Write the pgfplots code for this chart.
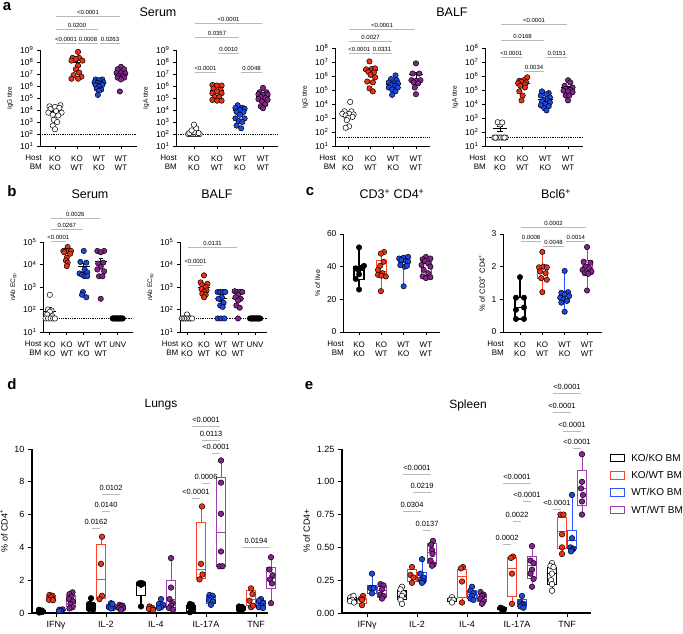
\documentclass[border=0pt]{standalone}
\usepackage{pgfplots}
\pgfplotsset{compat=1.18}
\usepgfplotslibrary{statistics}
\usepackage{fontspec}
\setmainfont{Liberation Sans}
\definecolor{cred}{RGB}{238,48,20}
\definecolor{cblue}{RGB}{28,72,228}
\definecolor{cpurp}{RGB}{132,36,140}
\definecolor{bred}{RGB}{255,64,40}
\definecolor{bblue}{RGB}{40,84,255}
\definecolor{bpurp}{RGB}{160,64,176}
\newcommand{\tp}[1]{10\textsuperscript{#1}}
\pgfplotsset{
  base/.style={scale only axis, clip=false, axis lines=left,
    axis line style={-, line width=0.9pt}, tick style={black, line width=0.7pt},
    major tick length=3pt, tick align=outside, boxplot/draw direction=y,
    yticklabel style={font=\fontsize{8.5}{9}\selectfont},
    xticklabel style={font=\fontsize{8}{9}\selectfont, align=center},
    xticklabel shift=3pt,
    ylabel style={font=\fontsize{6.5}{7}\selectfont}},
  hb/.style={xtick={0,1,2,3}, xticklabels={{KO\\KO},{KO\\WT},{WT\\KO},{WT\\WT}}},
  hb5/.style={xtick={0,1,2,3,4}, xticklabels={{KO\\KO},{KO\\WT},{WT\\KO},{WT\\WT},{UNV}}},
  dot/.style={only marks, mark=*, mark size=2.7pt, mark options={fill=#1, draw=black, line width=0.5pt}},
  lod/.style={densely dotted, line width=0.8pt, black},
}
\newcommand{\br}[4]{\draw[gray!55, line width=0.6pt, shorten <=1pt, shorten >=1pt] (axis cs:#1,#3) -- (axis cs:#2,#3) node[midway, above, inner sep=1pt, text=black, font=\fontsize{6}{7}\selectfont] {#4};}
\newcommand{\brd}[4]{\draw[gray!55, line width=0.7pt, shorten <=1pt, shorten >=1pt] (axis cs:#1,#3) -- (axis cs:#2,#3) node[midway, above, inner sep=1pt, yshift=2pt, text=black, font=\fontsize{7.5}{8}\selectfont] {#4};}
\newcommand{\bx}[7]{\addplot[line width=0.8pt, #1, boxplot prepared={draw position=#2, lower whisker=#3, lower quartile=#4, median=#5, upper quartile=#6, upper whisker=#7}] coordinates {};}
\newcommand{\hostbm}[1]{\node[anchor=north east, align=right, font=\fontsize{8}{9}\selectfont, inner sep=0pt, xshift=#1, yshift=-8.7pt] at (rel axis cs:0,0) {Host\\BM};}
\newcommand{\msem}[5]{\addplot[black, line width=0.9pt] coordinates {(#1-#5,#2) (#1+#5,#2)};
\addplot[black, line width=0.8pt] coordinates {(#1,#3) (#1,#4)};
\addplot[black, line width=0.8pt] coordinates {(#1-0.12,#3) (#1+0.12,#3)};
\addplot[black, line width=0.8pt] coordinates {(#1-0.12,#4) (#1+0.12,#4)};}
\begin{document}
\begin{tikzpicture}
\useasboundingbox (0pt,0pt) rectangle (683pt,633pt);
% ---------------- a1 IgG serum
\begin{axis}[base, ymode=log, yminorticks=false, hb, at={(40pt,487pt)}, anchor=south west, width=97pt, height=96pt,
  xmin=-0.68, xmax=3.73, ymin=10, ymax=1e9,
  ytick={1e1,1e2,1e3,1e4,1e5,1e6,1e7,1e8,1e9},
  yticklabels={\tp{1},\tp{2},\tp{3},\tp{4},\tp{5},\tp{6},\tp{7},\tp{8},\tp{9}},
  ylabel={IgG titre}]
\addplot[lod] coordinates {(-0.68,100) (3.73,100)};
\addplot[dot=white] coordinates {(-0.25,20000)(0.0,18000)(0.25,25000)(-0.2,12000)(0.2,15000)(-0.3,6000)(0.05,8000)(0.3,6000)(-0.1,4000)(0.15,3500)(-0.05,1500)(0.1,1000)(-0.1,500)(0.0,250)};
\addplot[dot=cred] coordinates {(1.05,7e8)(0.8,2.2e8)(1.1,2.2e8)(0.95,1.8e8)(0.75,1.3e8)(1.25,1.3e8)(1.05,5e7)(0.95,2.5e7)(1.1,1.3e7)(0.85,8e6)(0.75,4e6)(1.2,6e6)(1.05,4e6)};
\addplot[dot=cblue] coordinates {(1.85,3.5e6)(2.15,3.5e6)(2.0,3e6)(1.8,2e6)(2.2,2e6)(1.95,1.8e6)(2.1,1.5e6)(1.85,1.2e6)(2.15,1.2e6)(2.0,9e5)(1.9,6e5)(2.1,5e5)(2.0,4e5)(1.95,1.8e5)};
\addplot[dot=cpurp] coordinates {(3.0,4e7)(2.85,2.5e7)(3.15,2.5e7)(2.8,1.2e7)(3.0,1.2e7)(3.2,1.1e7)(2.9,7e6)(3.1,7e6)(2.85,5e6)(3.15,5e6)(3.0,3.5e6)(2.95,3.5e5)};
\msem{0}{8000}{6000}{10000}{0.32}
\msem{1}{1.5e8}{9e7}{2.1e8}{0.32}
\msem{2}{1.5e6}{1.2e6}{1.8e6}{0.32}
\msem{3}{1e7}{7e6}{1.3e7}{0.32}
\br{0}{3}{6.8e11}{<0.0001}
\br{0}{2}{5.6e10}{0.0200}
\br{0}{1}{3.8e9}{<0.0001}
\br{1}{2}{3.8e9}{0.0008}
\br{2}{3}{3.8e9}{0.0263}
\hostbm{2pt}
\end{axis}
% ---------------- a2 IgA serum
\begin{axis}[base, ymode=log, yminorticks=false, hb, at={(176pt,487pt)}, anchor=south west, width=102pt, height=96pt,
  xmin=-0.78, xmax=3.65, ymin=10, ymax=1e9,
  ytick={1e1,1e2,1e3,1e4,1e5,1e6,1e7,1e8,1e9},
  yticklabels={\tp{1},\tp{2},\tp{3},\tp{4},\tp{5},\tp{6},\tp{7},\tp{8},\tp{9}},
  ylabel={IgA titre}]
\addplot[lod] coordinates {(-0.78,100) (3.65,100)};
\addplot[dot=white] coordinates {(-0.25,100)(-0.15,100)(-0.05,100)(0.05,100)(0.15,100)(0.25,100)(-0.2,120)(0.2,120)(0,150)(-0.1,200)(0.1,300)(0,600)};
\addplot[dot=cred] coordinates {(0.8,1.2e6)(1.0,1.1e6)(1.2,1.1e6)(0.85,6e5)(1.15,5e5)(1.0,3.5e5)(0.8,2.5e5)(1.2,2.5e5)(0.9,1.2e5)(1.1,1.2e5)(0.8,7e4)(1.0,6e4)(1.2,6e4)};
\addplot[dot=cblue] coordinates {(1.9,2.5e4)(1.8,1.5e4)(2.1,1.5e4)(2.2,1.3e4)(2.0,1e4)(1.85,7e3)(2.15,7e3)(2.0,4e3)(1.8,2e3)(2.2,2e3)(1.95,1.2e3)(2.1,1e3)(1.85,5e2)(2.05,3e2)};
\addplot[dot=cpurp] coordinates {(3.0,7e5)(2.85,3e5)(3.15,3e5)(2.8,2e5)(3.0,1.8e5)(3.2,2e5)(2.9,1.2e5)(3.1,1e5)(2.8,8e4)(3.2,7e4)(2.95,5e4)(3.1,3e4)(2.9,2e4)(3.0,1.4e4)};
\msem{0}{150}{110}{190}{0.32}
\msem{1}{4e5}{2.8e5}{5.2e5}{0.32}
\msem{2}{1e4}{7.5e3}{1.25e4}{0.32}
\msem{3}{1.3e5}{9e4}{1.7e5}{0.32}
\br{0}{3}{1.8e11}{<0.0001}
\br{0}{2}{1.2e10}{0.0357}
\br{1}{2}{5.6e8}{0.0010}
\br{0}{1}{1.5e7}{<0.0001}
\br{2}{3}{1.5e7}{0.0048}
\hostbm{1pt}
\end{axis}
% ---------------- a3 IgG BALF
\begin{axis}[base, ymode=log, yminorticks=false, hb, at={(335pt,487pt)}, anchor=south west, width=95pt, height=98pt,
  xmin=-0.57, xmax=3.62, ymin=10, ymax=1e8,
  ytick={1e1,1e2,1e3,1e4,1e5,1e6,1e7,1e8},
  yticklabels={\tp{1},\tp{2},\tp{3},\tp{4},\tp{5},\tp{6},\tp{7},\tp{8}},
  ylabel={IgG titre}]
\addplot[lod] coordinates {(-0.57,40) (3.62,40)};
\addplot[dot=white] coordinates {(0.1,1.4e4)(-0.15,3e3)(0.15,3e3)(-0.25,2e3)(0.05,2e3)(0.25,1.8e3)(-0.1,1.5e3)(0.2,1.2e3)(0.0,1e3)(-0.05,700)(0.05,250)(-0.1,200)};
\addplot[dot=cred] coordinates {(0.95,1.1e7)(0.8,3e6)(1.05,3.2e6)(1.2,3.5e6)(0.9,2e6)(1.15,1.8e6)(1.0,1.2e6)(1.2,8e5)(0.85,4e5)(1.1,3.5e5)(0.95,1.3e5)(1.1,8e4)};
\addplot[dot=cblue] coordinates {(2.1,1.1e6)(1.9,6e5)(2.15,5e5)(1.8,3.5e5)(2.05,3e5)(2.2,3e5)(1.9,2.2e5)(2.1,2e5)(1.8,1.5e5)(2.2,1.5e5)(1.95,1.1e5)(2.1,8e4)(1.95,4.5e4)};
\addplot[dot=cpurp] coordinates {(3.0,8e6)(2.85,1.5e6)(3.15,1.5e6)(2.8,5e5)(3.0,4.5e5)(3.2,5e5)(2.9,3.5e5)(3.1,3e5)(2.95,1.5e5)(3.0,5e4)};
\msem{0}{1.8e3}{1.1e3}{2.8e3}{0.32}
\msem{1}{2.5e6}{1.5e6}{3.5e6}{0.32}
\msem{2}{2.7e5}{1.9e5}{3.5e5}{0.32}
\msem{3}{1.2e6}{5e5}{1.9e6}{0.32}
\br{0}{3}{2.3e9}{<0.0001}
\br{0}{2}{3.2e8}{0.0027}
\br{0}{1}{4.4e7}{<0.0001}
\br{1}{2}{4.4e7}{0.0331}
\hostbm{1pt}
\end{axis}
% ---------------- a4 IgA BALF
\begin{axis}[base, ymode=log, yminorticks=false, hb, at={(485pt,487pt)}, anchor=south west, width=98pt, height=98pt,
  xmin=-0.66, xmax=3.66, ymin=10, ymax=1e8,
  ytick={1e1,1e2,1e3,1e4,1e5,1e6,1e7,1e8},
  yticklabels={\tp{1},\tp{2},\tp{3},\tp{4},\tp{5},\tp{6},\tp{7},\tp{8}},
  ylabel={IgA titre}]
\addplot[lod] coordinates {(-0.66,40) (3.66,40)};
\addplot[dot=white] coordinates {(-0.25,40)(-0.15,40)(-0.05,40)(0.05,40)(0.15,40)(0.25,40)(-0.2,40)(0.2,40)(0.0,350)(-0.1,500)(0.1,480)};
\addplot[dot=cred] coordinates {(1.2,8e5)(1.05,5e5)(0.85,4.5e5)(0.95,4e5)(1.15,3.5e5)(0.8,3e5)(1.1,2.5e5)(0.9,2e5)(1.1,1.5e5)(0.85,8e4)(1.0,4e4)(0.95,1.8e4)};
\addplot[dot=cblue] coordinates {(1.85,8e4)(2.15,6e4)(2.05,5e4)(1.8,4e4)(2.2,3e4)(1.95,2e4)(2.1,1.8e4)(1.85,1.5e4)(2.2,1.3e4)(2.0,1e4)(1.8,8e3)(2.15,7e3)(1.95,5e3)(2.05,3.5e3)};
\addplot[dot=cpurp] coordinates {(3.0,5e5)(3.1,3.5e5)(2.85,2e5)(3.2,1.5e5)(2.9,1.2e5)(3.1,1e5)(2.8,9e4)(3.0,8e4)(3.2,7e4)(2.9,4e4)(3.05,4e4)(3.0,1.8e4)};
\msem{0}{180}{110}{250}{0.32}
\msem{1}{2.8e5}{2e5}{3.6e5}{0.32}
\msem{2}{2e4}{1.4e4}{2.6e4}{0.32}
\msem{3}{1.5e5}{1.1e5}{1.9e5}{0.32}
\br{0}{3}{5.2e9}{<0.0001}
\br{0}{2}{3.7e8}{0.0168}
\br{0}{1}{2.3e7}{<0.0001}
\br{2}{3}{2.3e7}{0.0151}
\br{1}{2}{2.3e6}{0.0034}
\hostbm{1pt}
\end{axis}
% ---------------- b1 nAb serum
\begin{axis}[base, ymode=log, yminorticks=false, hb5, at={(43pt,301pt)}, anchor=south west, width=90pt, height=90pt,
  xmin=-0.4, xmax=4.9, ymin=10, ymax=1e5,
  ytick={1e1,1e2,1e3,1e4,1e5},
  yticklabels={\tp{1},\tp{2},\tp{3},\tp{4},\tp{5}},
  ylabel={nAb EC\textsubscript{50}}]
\addplot[lod] coordinates {(-0.4,40) (4.9,40)};
\addplot[dot=white] coordinates {(0.0,450)(-0.1,100)(0.1,90)(0.0,80)(-0.15,60)(0.15,50)(-0.25,40)(-0.1,40)(0.05,40)(0.2,40)(0.3,40)};
\addplot[dot=cred] coordinates {(1.05,6e4)(0.8,4e4)(0.95,4e4)(1.1,4e4)(1.25,4e4)(0.85,3.5e4)(1.2,3e4)(1.0,2e4)(0.95,1.5e4)(1.05,1.2e4)(1.0,8.5e3)};
\addplot[dot=cblue] coordinates {(2.0,4e4)(1.8,1.3e4)(2.15,1.2e4)(2.05,6e3)(1.75,4e3)(2.2,4.5e3)(1.9,3.5e3)(2.05,3e3)(2.2,3e3)(1.95,600)(1.9,450)(2.15,350)};
\addplot[dot=cpurp] coordinates {(2.8,4e4)(3.2,4e4)(3.0,3.5e4)(2.85,1.1e4)(3.15,1.2e4)(3.0,8e3)(2.8,6e3)(3.2,5e3)(2.9,3e3)(3.1,3e3)(3.0,300)};
\addplot[dot=black] coordinates {(3.7,40)(3.75,40)(3.8,40)(3.85,40)(3.9,40)(3.95,40)(4.0,40)(4.05,40)(4.1,40)(4.15,40)(4.2,40)(4.25,40)(4.3,40)};
\msem{0}{85}{55}{120}{0.35}
\msem{1}{3.5e4}{3e4}{4e4}{0.35}
\msem{2}{8e3}{4.5e3}{1.15e4}{0.35}
\msem{3}{1.4e4}{9.5e3}{1.85e4}{0.35}
\br{0}{3}{1.17e6}{0.0026}
\br{0}{2}{3.8e5}{0.0267}
\br{0}{1}{1.1e5}{<0.0001}
\hostbm{-1.5pt}
\end{axis}
% ---------------- b2 nAb BALF
\begin{axis}[base, ymode=log, yminorticks=false, hb5, at={(180pt,301pt)}, anchor=south west, width=87pt, height=90pt,
  xmin=-0.41, xmax=4.7, ymin=10, ymax=1e5,
  ytick={1e1,1e2,1e3,1e4,1e5},
  yticklabels={\tp{1},\tp{2},\tp{3},\tp{4},\tp{5}},
  ylabel={nAb EC\textsubscript{50}}]
\addplot[lod] coordinates {(-0.41,40) (4.7,40)};
\addplot[dot=white] coordinates {(0.0,60)(-0.3,40)(-0.2,40)(-0.1,40)(0.0,40)(0.1,40)(0.2,40)(0.3,40)};
\addplot[dot=cred] coordinates {(1.0,3.3e3)(0.8,1.6e3)(1.2,1.4e3)(0.9,1.2e3)(1.1,1e3)(0.85,800)(1.15,700)(1.0,600)(0.9,500)(1.1,450)(1.0,350)};
\addplot[dot=cblue] coordinates {(1.8,600)(1.95,600)(2.1,600)(2.25,600)(2.05,350)(1.85,300)(2.15,200)(1.95,150)(2.1,130)(1.8,40)(2.0,40)(2.2,40)};
\addplot[dot=cpurp] coordinates {(2.8,650)(2.95,600)(3.1,600)(3.25,600)(3.0,450)(2.85,350)(3.15,300)(3.0,250)(2.9,150)(3.1,120)(3.0,40)};
\addplot[dot=black] coordinates {(3.7,40)(3.75,40)(3.8,40)(3.85,40)(3.9,40)(3.95,40)(4.0,40)(4.05,40)(4.1,40)(4.15,40)(4.2,40)(4.25,40)(4.3,40)};
\msem{1}{1e3}{7.5e2}{1.25e3}{0.35}
\msem{2}{300}{230}{370}{0.35}
\msem{3}{320}{250}{390}{0.35}
\br{0}{3}{6e4}{0.0131}
\br{0}{1}{9.5e3}{<0.0001}
\hostbm{-1.5pt}
\end{axis}
% ---------------- c1 CD3 CD4
\begin{axis}[base, hb, at={(343pt,301pt)}, anchor=south west, width=97pt, height=98pt,
  xmin=-0.72, xmax=3.63, ymin=0, ymax=60, ytick={0,20,40,60}, yticklabels={0,20,40,60},
  ylabel={\% of live}, ylabel style={font=\fontsize{7}{8}\selectfont},
  boxplot/box extend=0.45, boxplot/whisker extend=0.2]
\bx{draw=black, line width=1.2pt}{0}{26}{32.2}{37.9}{40}{52}
\bx{draw=bred}{1}{25}{34.8}{36.9}{43.6}{49}
\bx{draw=bblue}{2}{28}{40}{42.4}{44}{46}
\bx{draw=bpurp}{3}{33}{34.8}{42}{45.7}{46}
\addplot[dot=black] coordinates {(0,51.8)(-0.15,39)(0.12,39.5)(0.22,40.5)(-0.02,38)(0,35.3)(-0.15,32.5)(0,26)};
\addplot[dot=cred] coordinates {(1.12,49)(0.98,48)(1.1,43)(0.95,40.5)(0.85,38)(1.05,36)(0.85,35)(1.0,34.5)(1.2,34)(0.98,25)};
\addplot[dot=cblue] coordinates {(1.8,45)(2.0,45.5)(2.2,46)(1.9,44)(2.1,43.5)(2.2,43)(1.85,41)(2.05,40)(2.15,40.5)(2.0,28)};
\addplot[dot=cpurp] coordinates {(3.0,46)(2.85,44.5)(3.2,45)(2.95,43.5)(3.1,42)(2.8,41)(3.2,40)(2.9,38)(3.1,36)(2.85,34)(3.0,33)(3.2,33.5)};
\hostbm{1pt}
\end{axis}
% ---------------- c2 Bcl6
\begin{axis}[base, hb, at={(503pt,301pt)}, anchor=south west, width=99pt, height=98pt,
  xmin=-0.76, xmax=3.67, ymin=0, ymax=3, ytick={0,1,2,3}, yticklabels={0,1,2,3},
  ylabel={\% of CD3\textsuperscript{+} CD4\textsuperscript{+}}, ylabel style={font=\fontsize{7.5}{8}\selectfont},
  boxplot/box extend=0.45, boxplot/whisker extend=0.2]
\bx{draw=black, line width=1.2pt}{0}{0.38}{0.4}{0.75}{1.05}{1.68}
\bx{draw=bred}{1}{1.22}{1.65}{1.95}{2.02}{2.48}
\bx{draw=bblue}{2}{0.61}{0.94}{1.11}{1.24}{1.88}
\bx{draw=bpurp}{3}{1.27}{1.77}{1.9}{2.18}{2.59}
\addplot[dot=black] coordinates {(0,1.68)(-0.18,1.05)(0.18,1.05)(0.18,0.75)(-0.18,0.68)(-0.18,0.4)(0.18,0.4)};
\addplot[dot=cred] coordinates {(1.0,2.45)(0.85,1.98)(1.05,2.0)(1.2,1.98)(0.9,1.85)(1.15,1.8)(0.95,1.65)(1.2,1.6)(1.0,1.22)};
\addplot[dot=cblue] coordinates {(2.0,1.87)(1.85,1.2)(2.15,1.22)(2.0,1.15)(1.8,1.05)(2.2,1.1)(1.95,1.0)(2.1,0.95)(1.85,0.9)(2.0,0.62)};
\addplot[dot=cpurp] coordinates {(3.0,2.6)(2.85,2.15)(3.15,2.12)(2.95,2.0)(2.8,1.9)(3.1,1.95)(3.2,1.85)(2.9,1.8)(3.05,1.78)(3.0,1.27)};
\br{0}{3}{3.21}{0.0002}
\br{0}{1}{2.78}{0.0008}
\br{2}{3}{2.78}{0.0014}
\br{1}{2}{2.63}{0.0048}
\hostbm{1pt}
\end{axis}
% ---------------- d Lungs
\begin{axis}[base, at={(32pt,20pt)}, anchor=south west, width=236pt, height=164pt,
  xmin=-0.48, xmax=4.24, ymin=0, ymax=10, ytick={0,2,4,6,8,10}, yticklabels={0,2,4,6,8,10},
  xtick={0,1,2,3,4}, xticklabels={IFNγ,IL-2,IL-4,IL-17A,TNF},
  axis line style={line width=1.2pt}, major tick length=4pt, xticklabel shift=1pt,
  yticklabel style={font=\fontsize{9}{10}\selectfont}, xticklabel style={font=\fontsize{9}{10}\selectfont},
  ylabel={\% of CD4\textsuperscript{+}}, ylabel style={font=\fontsize{9}{10}\selectfont},
  boxplot/box extend=0.18, boxplot/whisker extend=0]
\bx{draw=black, line width=1.2pt}{-0.3}{0.03}{0.05}{0.1}{0.15}{0.22}
\bx{draw=bred}{-0.1}{0.75}{0.8}{0.95}{1.05}{1.12}
\bx{draw=bblue}{0.1}{0.12}{0.14}{0.17}{0.2}{0.22}
\bx{draw=bpurp}{0.3}{0.28}{0.4}{0.8}{1.1}{1.26}
\bx{draw=black, line width=1.2pt}{0.7}{0.2}{0.25}{0.45}{0.6}{0.9}
\bx{draw=bred}{0.9}{0.85}{0.9}{2.05}{4.2}{4.65}
\bx{draw=bblue}{1.1}{0.28}{0.3}{0.35}{0.5}{0.6}
\bx{draw=bpurp}{1.3}{0.2}{0.25}{0.35}{0.45}{0.5}
\bx{draw=black, line width=1.2pt}{1.7}{0.4}{1.05}{1.75}{1.83}{1.85}
\bx{draw=bred}{1.9}{0.15}{0.2}{0.25}{0.35}{0.4}
\bx{draw=bblue}{2.1}{0.3}{0.35}{0.5}{0.6}{0.85}
\bx{draw=bpurp}{2.3}{0.2}{0.35}{0.8}{2.0}{3.35}
\bx{draw=black, line width=1.2pt}{2.7}{0.05}{0.1}{0.3}{0.45}{0.55}
\bx{draw=bred}{2.9}{2.05}{2.1}{2.65}{5.55}{6.5}
\bx{draw=bblue}{3.1}{0.5}{0.6}{0.85}{1.05}{1.1}
\bx{draw=bpurp}{3.3}{2.85}{2.85}{4.9}{8.25}{9.3}
\bx{draw=black, line width=1.2pt}{3.7}{0.15}{0.2}{0.3}{0.38}{0.42}
\bx{draw=bred}{3.9}{0.35}{0.45}{0.85}{1.35}{1.5}
\bx{draw=bblue}{4.1}{0.3}{0.35}{0.6}{0.75}{0.85}
\bx{draw=bpurp}{4.3}{0.6}{1.5}{2.1}{2.8}{3.4}
\addplot[dot=black, mark size=2.8pt] coordinates {(-0.34,0.2)(-0.28,0.15)(-0.32,0.1)(-0.26,0.08)(-0.3,0.05)(-0.34,0.03) (0.7,0.9)(0.66,0.55)(0.74,0.5)(0.7,0.3)(0.66,0.25)(0.74,0.2) (1.66,1.8)(1.7,1.83)(1.74,1.8)(1.7,1.72)(1.7,0.4) (2.68,0.55)(2.72,0.5)(2.66,0.4)(2.74,0.3)(2.7,0.1)(2.68,0.05) (3.66,0.4)(3.72,0.38)(3.7,0.3)(3.74,0.25)(3.66,0.2)(3.7,0.15)};
\addplot[dot=cred, mark size=2.8pt] coordinates {(-0.13,1.1)(-0.07,1.05)(-0.1,0.95)(-0.14,0.8)(-0.06,0.78) (0.92,4.65)(0.9,3.0)(0.92,1.05)(0.87,0.85) (1.87,0.4)(1.93,0.3)(1.9,0.2)(1.86,0.25)(1.94,0.18) (2.92,6.5)(2.9,3.0)(2.93,2.35)(2.87,2.05) (3.9,1.5)(3.93,1.15)(3.87,0.75)(3.9,0.35)(3.94,0.45)};
\addplot[dot=cblue, mark size=2.8pt] coordinates {(0.07,0.2)(0.13,0.22)(0.1,0.15)(0.06,0.13) (1.1,0.6)(1.06,0.35)(1.14,0.3)(1.1,0.28)(1.13,0.55) (2.1,0.85)(2.06,0.55)(2.14,0.5)(2.1,0.35)(2.06,0.3) (3.07,1.1)(3.13,1.05)(3.1,0.9)(3.06,0.8)(3.14,0.7)(3.1,0.5) (4.1,0.85)(4.06,0.75)(4.14,0.6)(4.1,0.45)(4.06,0.35)(4.14,0.3)};
\addplot[dot=cpurp, mark size=2.8pt] coordinates {(0.33,1.26)(0.27,1.15)(0.31,1.0)(0.26,0.85)(0.34,0.7)(0.29,0.55)(0.33,0.35)(0.27,0.28) (1.27,0.5)(1.33,0.45)(1.3,0.4)(1.26,0.3)(1.34,0.28)(1.3,0.2) (2.3,3.35)(2.3,1.55)(2.27,0.85)(2.33,0.6)(2.3,0.45)(2.26,0.3)(2.34,0.2) (3.3,9.3)(3.3,7.95)(3.3,6.05)(3.3,3.75)(3.27,2.85)(3.33,2.85) (4.3,3.4)(4.27,2.65)(4.33,2.3)(4.28,2.05)(4.32,1.8)(4.3,0.6)};
\brd{0.7}{0.9}{5.18}{0.0162}
\brd{0.9}{1.1}{6.22}{0.0140}
\brd{0.9}{1.3}{7.26}{0.0102}
\brd{2.7}{2.9}{7.01}{<0.0001}
\brd{2.9}{3.1}{7.93}{0.0006}
\brd{3.1}{3.3}{9.76}{<0.0001}
\brd{2.9}{3.3}{10.55}{0.0113}
\brd{2.7}{3.3}{11.4}{<0.0001}
\brd{3.7}{4.3}{4.02}{0.0194}
\end{axis}
% ---------------- e Spleen
\begin{axis}[base, at={(342pt,20pt)}, anchor=south west, width=249pt, height=164pt,
  xmin=-0.5, xmax=4.48, ymin=0, ymax=1.25, ytick={0,0.25,0.5,0.75,1,1.25},
  yticklabels={0.00,0.25,0.50,0.75,1.00,1.25},
  xtick={0,1,2,3,4}, xticklabels={IFNγ,IL-2,IL-4,IL-17A,TNF},
  axis line style={line width=1.2pt}, major tick length=4pt, xticklabel shift=1pt,
  yticklabel style={font=\fontsize{9}{10}\selectfont}, xticklabel style={font=\fontsize{9}{10}\selectfont},
  ylabel={\% of CD4+}, ylabel style={font=\fontsize{9}{10}\selectfont},
  boxplot/box extend=0.18, boxplot/whisker extend=0,
  legend style={at={(1.065,0.995)}, anchor=north west, draw=none, fill=none, font=\fontsize{10}{12}\selectfont, row sep=4.5pt,
    /tikz/every odd column/.append style={column sep=4pt}},
  legend cell align=left,
  legend image code/.code={\draw[#1, line width=0.9pt] (0pt,-3.5pt) rectangle (14pt,4pt);}]
\addlegendimage{draw=black}
\addlegendentry{KO/KO BM}
\addlegendimage{draw=bred}
\addlegendentry{KO/WT BM}
\addlegendimage{draw=bblue}
\addlegendentry{WT/KO BM}
\addlegendimage{draw=bpurp}
\addlegendentry{WT/WT BM}
\bx{draw=black}{-0.3}{0.08}{0.09}{0.1}{0.12}{0.13}
\bx{draw=bred}{-0.1}{0.06}{0.07}{0.1}{0.11}{0.13}
\bx{draw=bblue}{0.1}{0.15}{0.15}{0.19}{0.21}{0.3}
\bx{draw=bpurp}{0.3}{0.11}{0.12}{0.17}{0.2}{0.22}
\bx{draw=black}{0.7}{0.07}{0.1}{0.13}{0.17}{0.2}
\bx{draw=bred}{0.9}{0.23}{0.24}{0.28}{0.33}{0.35}
\bx{draw=bblue}{1.1}{0.23}{0.24}{0.27}{0.31}{0.41}
\bx{draw=bpurp}{1.3}{0.36}{0.38}{0.46}{0.53}{0.55}
\bx{draw=black}{1.7}{0.08}{0.09}{0.1}{0.11}{0.12}
\bx{draw=bred}{1.9}{0.08}{0.12}{0.28}{0.33}{0.35}
\bx{draw=bblue}{2.1}{0.1}{0.11}{0.14}{0.17}{0.2}
\bx{draw=bpurp}{2.3}{0.07}{0.09}{0.12}{0.14}{0.16}
\bx{draw=black}{2.7}{0.02}{0.03}{0.035}{0.04}{0.045}
\bx{draw=bred}{2.9}{0.07}{0.13}{0.34}{0.42}{0.43}
\bx{draw=bblue}{3.1}{0.04}{0.05}{0.07}{0.1}{0.13}
\bx{draw=bpurp}{3.3}{0.2}{0.26}{0.36}{0.43}{0.51}
\bx{draw=black}{3.7}{0.17}{0.22}{0.3}{0.35}{0.38}
\bx{draw=bred}{3.9}{0.45}{0.49}{0.62}{0.73}{0.75}
\bx{draw=bblue}{4.1}{0.47}{0.49}{0.55}{0.63}{0.9}
\bx{draw=bpurp}{4.3}{0.75}{0.82}{0.95}{1.09}{1.21}
\addplot[dot=white, mark size=2.8pt] coordinates {(-0.33,0.12)(-0.27,0.13)(-0.3,0.1)(-0.34,0.09)(-0.26,0.08) (0.7,0.2)(0.67,0.18)(0.73,0.15)(0.7,0.13)(0.67,0.1)(0.7,0.07) (1.7,0.12)(1.67,0.1)(1.73,0.1)(1.7,0.08) (3.7,0.38)(3.67,0.36)(3.73,0.35)(3.7,0.3)(3.68,0.25)(3.7,0.22)(3.7,0.17)};
\addplot[dot=black, mark size=2.8pt] coordinates {(2.67,0.04)(2.7,0.035)(2.73,0.03)(2.7,0.025)(2.73,0.02)};
\addplot[dot=cred, mark size=2.8pt] coordinates {(-0.08,0.13)(-0.12,0.11)(-0.1,0.1)(-0.1,0.06) (0.9,0.35)(0.87,0.29)(0.93,0.27)(0.9,0.23) (1.92,0.35)(1.88,0.34)(1.9,0.24)(1.9,0.08) (2.92,0.43)(2.88,0.42)(2.9,0.3)(2.9,0.07) (3.87,0.75)(3.93,0.75)(3.9,0.6)(3.9,0.5)(3.9,0.45)};
\addplot[dot=cblue, mark size=2.8pt] coordinates {(0.1,0.3)(0.07,0.19)(0.13,0.19)(0.1,0.15) (1.1,0.41)(1.07,0.3)(1.13,0.27)(1.08,0.25)(1.12,0.24)(1.1,0.23) (2.1,0.2)(2.07,0.17)(2.13,0.15)(2.1,0.13)(2.07,0.11)(2.13,0.1) (3.1,0.13)(3.07,0.08)(3.13,0.07)(3.1,0.06)(3.07,0.05)(3.13,0.04) (4.1,0.9)(4.1,0.57)(4.07,0.5)(4.13,0.49)(4.1,0.48)(4.08,0.47)};
\addplot[dot=cpurp, mark size=2.8pt] coordinates {(0.27,0.22)(0.33,0.21)(0.3,0.18)(0.27,0.14)(0.33,0.13)(0.3,0.11) (1.32,0.55)(1.28,0.52)(1.3,0.48)(1.31,0.45)(1.27,0.4)(1.33,0.37)(1.3,0.36) (2.27,0.16)(2.33,0.14)(2.3,0.13)(2.27,0.11)(2.33,0.09)(2.3,0.07) (3.3,0.51)(3.27,0.4)(3.33,0.38)(3.3,0.33)(3.27,0.3)(3.33,0.26)(3.3,0.2) (4.3,1.21)(4.3,1.0)(4.28,0.95)(4.32,0.9)(4.3,0.85)(4.3,0.75)};
\brd{0.7}{1.3}{1.06}{<0.0001}
\brd{0.9}{1.3}{0.922}{0.0219}
\brd{0.7}{1.1}{0.777}{0.0304}
\brd{1.1}{1.3}{0.633}{0.0137}
\brd{2.7}{3.3}{0.991}{<0.0001}
\brd{3.1}{3.3}{0.854}{<0.0001}
\brd{2.9}{3.1}{0.701}{0.0022}
\brd{2.7}{2.9}{0.526}{0.0002}
\brd{3.7}{4.3}{1.677}{<0.0001}
\brd{3.7}{4.1}{1.532}{<0.0001}
\brd{3.9}{4.3}{1.387}{<0.0001}
\brd{4.1}{4.3}{1.258}{<0.0001}
\brd{3.7}{3.9}{0.793}{<0.0001}
\end{axis}
% titles and panel letters
\node[font=\fontsize{12.5}{14}\selectfont] at (158pt,621pt) {Serum};
\node[font=\fontsize{12.5}{14}\selectfont] at (452pt,621pt) {BALF};
\node[font=\fontsize{12.5}{14}\selectfont] at (90pt,439pt) {Serum};
\node[font=\fontsize{12.5}{14}\selectfont] at (217pt,439pt) {BALF};
\node[font=\fontsize{12.5}{14}\selectfont] at (392pt,439pt) {CD3\textsuperscript{+} CD4\textsuperscript{+}};
\node[font=\fontsize{12.5}{14}\selectfont] at (556pt,439pt) {Bcl6\textsuperscript{+}};
\node[font=\fontsize{12}{14}\selectfont] at (161pt,228pt) {Lungs};
\node[font=\fontsize{12}{14}\selectfont] at (468pt,228pt) {Spleen};
\node[font=\fontsize{15}{16}\selectfont\bfseries] at (7pt,626pt) {a};
\node[font=\fontsize{15}{16}\selectfont\bfseries] at (12pt,442pt) {b};
\node[font=\fontsize{15}{16}\selectfont\bfseries] at (310pt,441pt) {c};
\node[font=\fontsize{15}{16}\selectfont\bfseries] at (12pt,249pt) {d};
\node[font=\fontsize{15}{16}\selectfont\bfseries] at (309pt,247pt) {e};
\end{tikzpicture}
\end{document}
